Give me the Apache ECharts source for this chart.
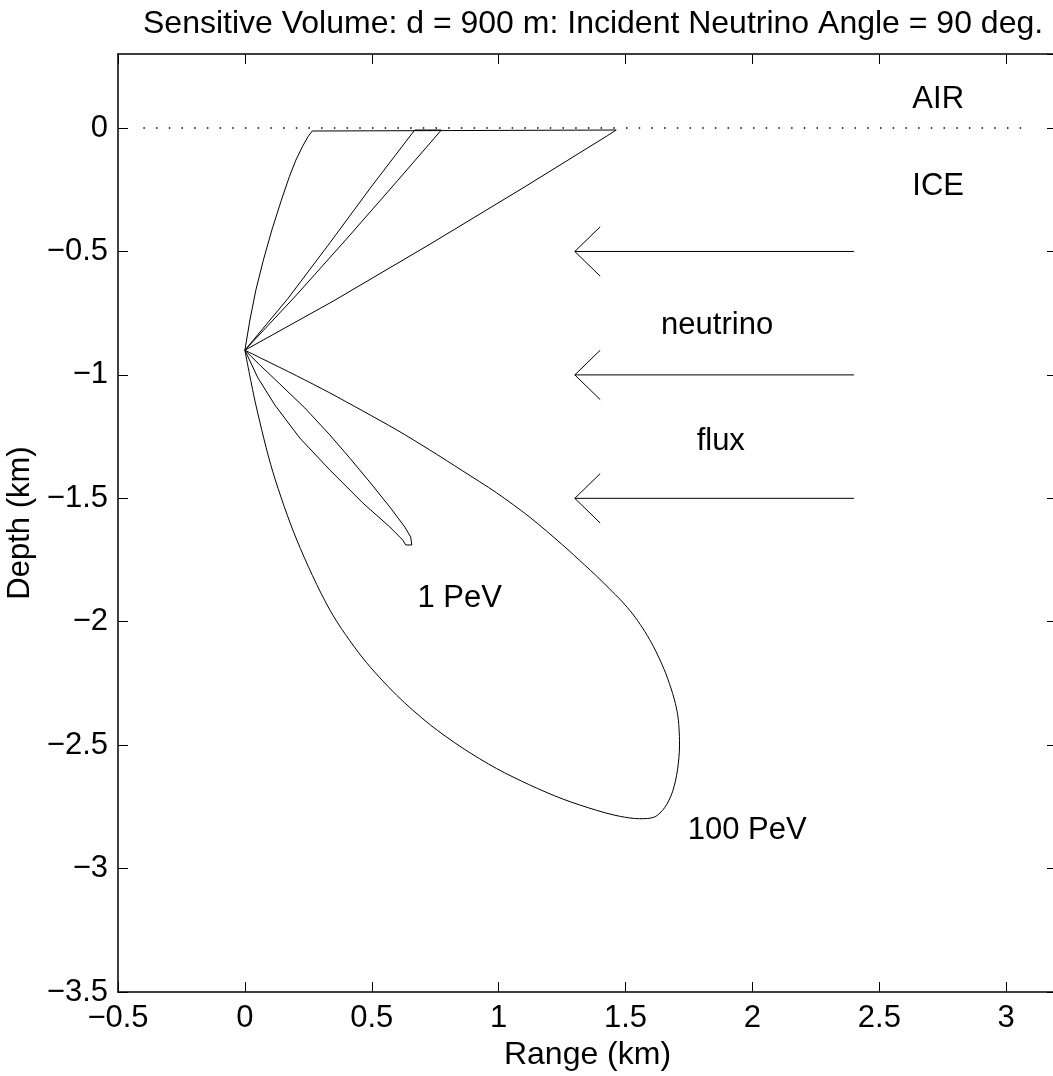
<!DOCTYPE html>
<html><head><meta charset="utf-8">
<script src="https://cdn.jsdelivr.net/npm/echarts@6/dist/echarts.min.js"></script>
<style>html,body{margin:0;padding:0;background:#fff}#c{width:1053px;height:1076px}</style>
</head><body><div id="c"></div>
<script>
// ---- axis settings ----
const xRange = [-0.5, 3.2];
const yRange = [-3.5, 0.3];
const tickStep = 0.5;

// ---- ice surface (dotted) ----
const surfaceX = [-0.4, 3.1];
const surfaceY = [0, 0];

// ---- 100 PeV contour, upper part (clipped at the surface) ----
const pev100UpX = [0, 0.0197, 0.0433, 0.0728, 0.1063, 0.1437, 0.1752, 0.2008, 0.2264, 0.2480, 0.2657, 0.2717, 1.463, 1.43, 1.10, 0.73, 0.35, 0];
const pev100UpY = [-0.9, -0.778, -0.656, -0.535, -0.413, -0.292, -0.197, -0.130, -0.076, -0.036, -0.012, -0.008, -0.008, -0.03, -0.24, -0.47, -0.70, -0.9];

// ---- 100 PeV contour, lower lobe ----
const pev100LoX = [0, 0.0433, 0.1102, 0.2047, 0.3346, 0.4646, 0.5984, 0.7283, 0.8583, 0.9921, 1.1220, 1.2520, 1.3858, 1.4764, 1.5551, 1.6142, 1.6535, 1.6850, 1.7047, 1.7126, 1.7106, 1.7047, 1.6929, 1.6772, 1.6575, 1.6339, 1.6024, 1.5669, 1.5276, 1.4843, 1.4370, 1.3858, 1.3386, 1.2520, 1.1220, 0.9921, 0.8583, 0.7283, 0.5984, 0.4646, 0.3346, 0.2047, 0.0709, 0];
const pev100LoY = [-0.9, -1.122, -1.393, -1.669, -1.952, -2.147, -2.298, -2.416, -2.512, -2.595, -2.661, -2.718, -2.764, -2.788, -2.798, -2.791, -2.754, -2.689, -2.600, -2.499, -2.430, -2.373, -2.317, -2.264, -2.207, -2.151, -2.086, -2.025, -1.968, -1.916, -1.867, -1.815, -1.770, -1.689, -1.576, -1.478, -1.389, -1.304, -1.223, -1.146, -1.073, -1.004, -0.936, -0.9];

// ---- 1 PeV contour, upper part ----
const pev1UpX = [0, 0.17, 0.335, 0.50, 0.669, 0.774, 0.60, 0.40, 0.20, 0];
const pev1UpY = [-0.9, -0.69, -0.465, -0.235, -0.008, -0.008, -0.215, -0.45, -0.68, -0.9];

// ---- 1 PeV contour, lower lobe ----
const pev1LoX = [0, 0.0512, 0.1181, 0.2165, 0.3346, 0.4646, 0.5709, 0.6220, 0.6339, 0.6575, 0.6535, 0.6299, 0.5709, 0.4921, 0.4134, 0.3346, 0.2362, 0.1378, 0.0591, 0];
const pev1LoY = [-0.9, -1.012, -1.122, -1.256, -1.385, -1.519, -1.616, -1.669, -1.689, -1.689, -1.657, -1.616, -1.535, -1.434, -1.337, -1.243, -1.134, -1.037, -0.960, -0.9];

// ---- flux arrows ----
const arrowY = [-0.5, -1.0, -1.5];
const arrowTailX = 2.4;
const arrowTipX = 1.3;
const arrowHeadDX = 0.1;
const arrowHeadDY = 0.1;

// ---- annotations ----
const noteText = ['AIR', 'ICE', 'neutrino', 'flux', '1 PeV', '100 PeV'];
const noteX = [2.63, 2.63, 1.64, 1.78, 0.68, 1.745];
const noteY = [0.115, -0.235, -0.80, -1.27, -1.905, -2.847];

const titleText = 'Sensitive Volume: d = 900 m: Incident Neutrino Angle = 90 deg.';
const xName = 'Range (km)';
const yName = 'Depth (km)';

// ---------------------------------------------------------------
const FONT = '"Liberation Sans", Arial, Helvetica, sans-serif';
const FS = 31;
const zip = (xs, ys) => xs.map((x, i) => [x, ys[i]]);

const arrowData = [];
arrowY.forEach(y => {
  arrowData.push([arrowTailX, y], [arrowTipX, y], null);
  arrowData.push([arrowTipX + arrowHeadDX, y + arrowHeadDY], [arrowTipX, y], [arrowTipX + arrowHeadDX, y - arrowHeadDY], null);
});

const fmt = v => {
  const r = Math.round(v / tickStep) * tickStep;
  if (Math.abs(r - v) > 1e-9) return '';
  return String(+v.toFixed(2)).replace('-', '\u2212');
};

const lineSeries = (data, extra) => Object.assign({
  type: 'line', data, showSymbol: false, symbol: 'none', silent: true,
  lineStyle: { color: '#000', width: 1 }, animation: false, connectNulls: false
}, extra || {});

const tickStyle = { inside: true, length: 10, lineStyle: { color: '#000', width: 1 } };
const lineStyleAxis = { lineStyle: { color: '#000', width: 1.5 }, onZero: false };

const option = {
  backgroundColor: '#fff',
  animation: false,
  title: {
    text: titleText, left: 138, top: 3,
    textStyle: { fontFamily: FONT, fontSize: 32, fontWeight: 'normal', color: '#000' }
  },
  grid: { left: 118, top: 54, width: 939, height: 938, containLabel: false, outerBoundsMode: 'none' },
  xAxis: [{
    type: 'value', min: xRange[0], max: xRange[1], interval: tickStep, position: 'bottom',
    axisLine: lineStyleAxis, axisTick: tickStyle,
    axisLabel: { formatter: fmt, color: '#000', fontFamily: FONT, fontSize: FS, margin: 11, showMaxLabel: false },
    splitLine: { show: false },
    name: xName, nameLocation: 'middle', nameGap: 47,
    nameTextStyle: { fontFamily: FONT, fontSize: 32, color: '#000' }
  }, {
    type: 'value', min: xRange[0], max: xRange[1], interval: tickStep, position: 'top',
    axisLine: lineStyleAxis, axisTick: tickStyle,
    axisLabel: { show: false }, splitLine: { show: false }
  }],
  yAxis: [{
    type: 'value', min: yRange[0], max: yRange[1], interval: tickStep, position: 'left',
    axisLine: Object.assign({ show: true }, lineStyleAxis), axisTick: Object.assign({ show: true }, tickStyle),
    axisLabel: { formatter: fmt, color: '#000', fontFamily: FONT, fontSize: FS, margin: 10, showMaxLabel: false },
    splitLine: { show: false },
    name: yName, nameLocation: 'middle', nameGap: 72, nameRotate: 90,
    nameTextStyle: { fontFamily: FONT, fontSize: FS, color: '#000' }
  }, {
    type: 'value', min: yRange[0], max: yRange[1], interval: tickStep, position: 'right',
    axisLine: Object.assign({ show: true }, lineStyleAxis), axisTick: Object.assign({ show: true }, tickStyle),
    axisLabel: { show: false }, splitLine: { show: false }
  }],
  series: [
    lineSeries(zip(surfaceX, surfaceY), { lineStyle: { color: '#000', width: 1.5, type: [1.5, 11.2] } }),
    lineSeries(zip(pev100UpX, pev100UpY)),
    lineSeries(zip(pev100LoX, pev100LoY), { smooth: 0.3 }),
    lineSeries(zip(pev1UpX, pev1UpY)),
    lineSeries(zip(pev1LoX, pev1LoY)),
    lineSeries(arrowData),
    {
      type: 'scatter', silent: true, symbolSize: 0, animation: false,
      itemStyle: { opacity: 1 },
      data: noteText.map((t, i) => ({ value: [noteX[i], noteY[i]], name: t })),
      label: {
        show: true, position: 'right', distance: 0, formatter: p => p.name, opacity: 1,
        color: '#000', fontFamily: FONT, fontSize: FS
      }
    }
  ]
};

const chart = echarts.init(document.getElementById('c'), null, { renderer: 'canvas' });
chart.setOption(option);
</script>
</body></html>
